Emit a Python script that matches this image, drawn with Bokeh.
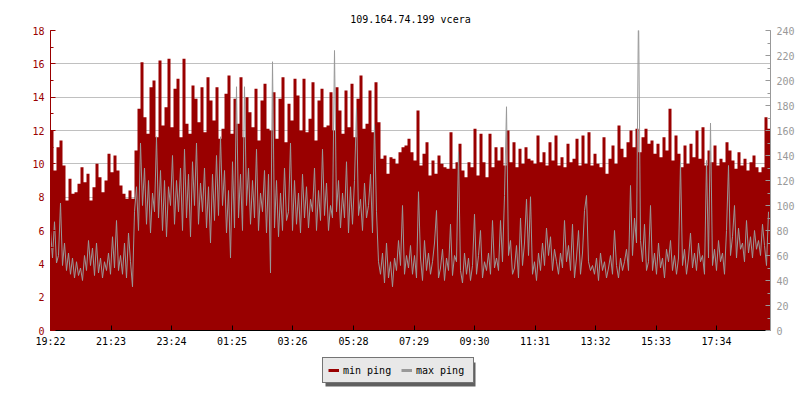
from bokeh.plotting import figure
from bokeh.layouts import column
from bokeh.models import (Range1d, LinearAxis, FixedTicker, SingleIntervalTicker,
                          Legend, LegendItem, Grid, BoxAnnotation)
from bokeh.embed import file_html
from bokeh.resources import INLINE

title_text = "109.164.74.199 vcera"
tick_labels = ["19:22", "21:23", "23:24", "01:25", "03:26", "05:28",
               "07:29", "09:30", "11:31", "13:32", "15:33", "17:34"]
series_names = ["min ping", "max ping"]

min_step_minutes = 6
max_step_minutes = 4
span_minutes = 1440

# min ping (left axis), one value every 6 minutes from 19:22
min_ping = [
    12.0, 9.6, 11.0, 11.4, 9.9, 7.8, 9.1, 8.2, 8.3, 8.8,
    9.8, 8.9, 9.4, 7.8, 8.6, 10.0, 9.2, 8.3, 9.0, 10.6,
    9.5, 10.5, 9.6, 8.7, 8.2, 7.9, 8.4, 7.9, 10.8, 13.3,
    16.1, 12.8, 11.8, 14.6, 15.0, 11.6, 16.2, 12.3, 13.4, 16.3,
    12.2, 14.5, 15.1, 11.6, 16.3, 12.4, 11.8, 14.7, 13.9, 12.5,
    14.6, 11.9, 15.2, 13.8, 12.6, 14.6, 11.5, 12.1, 14.2, 15.3,
    11.8, 13.9, 12.4, 15.2, 11.6, 14.0, 13.1, 12.2, 14.5, 11.4,
    13.8, 14.8, 12.1, 12.0, 14.3, 11.5, 13.9, 15.2, 11.3, 13.6,
    12.6, 15.1, 14.1, 12.0, 15.1, 11.9, 12.7, 14.9, 11.4, 13.8,
    14.5, 12.2, 12.3, 14.3, 12.0, 14.6, 13.2, 11.8, 14.4, 12.2,
    14.8, 11.6, 13.9, 15.3, 12.1, 12.4, 14.4, 11.9, 14.9, 12.5,
    10.3, 10.5, 9.4, 10.4, 10.3, 10.0, 10.7, 11.0, 11.1, 11.5,
    10.7, 10.2, 13.2, 9.9, 10.6, 11.3, 9.3, 10.2, 9.4, 10.5,
    10.0, 9.8, 9.7, 11.9, 9.7, 10.1, 11.2, 9.6, 9.2, 10.1,
    9.8, 12.1, 9.3, 11.8, 10.1, 9.2, 11.8, 9.8, 11.0, 10.2,
    11.0, 9.9, 12.0, 10.1, 11.3, 9.8, 10.9, 10.0, 11.0, 10.3,
    10.2, 10.0, 11.7, 10.1, 10.7, 9.9, 11.3, 10.2, 11.7, 9.9,
    10.4, 9.8, 11.2, 10.1, 10.3, 11.5, 9.9, 11.7, 10.0, 11.9,
    9.9, 10.6, 10.0, 9.8, 11.6, 9.4, 10.3, 11.1, 10.0, 12.3,
    10.9, 10.4, 11.3, 12.0, 11.0, 12.1, 10.7, 11.6, 12.1, 11.2,
    11.4, 10.6, 11.2, 10.4, 11.6, 10.8, 13.3, 10.2, 11.7, 10.6,
    9.8, 11.1, 10.0, 11.2, 10.4, 12.0, 10.3, 12.2, 9.9, 10.8,
    10.1, 11.1, 9.9, 10.3, 10.1, 11.3, 10.8, 10.2, 9.7, 10.7,
    9.9, 10.3, 9.6, 10.1, 10.5, 9.8, 9.5, 9.8, 12.8, 12.1,
]

# max ping (right axis), one value every 4 minutes from 19:22
max_ping = [
    80, 58, 87, 54, 60, 102, 52, 70, 48, 62, 45, 58, 42, 55, 44, 50,
    40, 60, 48, 72, 52, 66, 44, 70, 46, 58, 42, 55, 48, 62, 45, 75,
    50, 88, 48, 60, 45, 70, 42, 78, 55, 35, 95, 115, 80, 150, 100, 130,
    85, 120, 78, 110, 95, 155, 90, 128, 80, 120, 75, 115,
    100, 140, 85, 120, 95, 130, 80, 145, 90, 125, 75, 135, 100, 150, 85, 118,
    95, 130, 82, 115, 70, 125, 88, 140, 92, 155, 100, 128, 78, 112, 58, 135,
    82, 195, 90, 125, 80, 195, 100, 130, 85, 120, 90, 145, 80, 110, 95, 128,
    78, 125, 46, 215, 82, 120, 75, 110, 80, 130, 88,
    95, 150, 80, 120, 85, 110, 78, 125, 90, 115, 82, 105, 95, 130, 80, 112,
    88, 145, 92, 118, 80, 100, 90, 224, 95, 120, 82, 110, 90, 135, 78, 115,
    85, 120, 178, 92, 105, 80, 118, 90, 100, 125, 78, 165, 95, 55,
    45, 62, 38, 70, 42, 55, 35, 58, 48, 72, 52, 100, 45, 60,
    50, 68, 45, 60, 42, 111, 58, 40, 72, 48, 62, 45, 55, 70, 96, 42,
    50, 65, 40, 58, 48, 85, 44, 60, 55, 143, 48, 38, 62, 45, 58, 40,
    52, 93, 45, 60, 80, 42, 55, 48, 62, 45, 88, 50, 58, 48, 88, 55,
    108, 179, 60, 72, 45, 50, 68, 42, 90, 52, 70, 105,
    60, 107, 45, 55, 40, 62, 48, 70, 52, 82, 60, 75, 48, 65, 55, 45,
    62, 50, 88, 55, 68, 48, 85, 42, 58, 80, 45, 62, 96, 108, 55, 48,
    52, 45, 58, 40, 62, 48, 55, 42, 50, 60, 45, 80, 52, 42, 58, 48,
    55, 65, 48, 116, 60, 90, 70, 260, 72, 55, 85, 48,
    55, 100, 48, 62, 45, 70, 50, 58, 42, 65, 55, 72, 48, 60, 45, 58,
    135, 52, 65, 45, 58, 78, 50, 62, 48, 70, 55, 60, 45, 136, 58, 166,
    52, 65, 48, 72, 55, 62, 45, 80, 132, 60, 75, 100, 58, 82, 65, 70,
    55, 88, 62, 75, 58, 80, 65, 72, 60, 85, 68, 52, 95,
]

RED = "#990000"
GRAY = "#999999"
FONT = "DejaVu Sans Mono"
BORDER_L, FRAME_W, BORDER_R = 50, 720, 30


def to_minutes(s):
    h, m = s.split(":")
    return int(h) * 60 + int(m)


start = to_minutes(tick_labels[0])
tick_pos = [(to_minutes(s) - start) % span_minutes for s in tick_labels]

x_min = [i * min_step_minutes for i in range(len(min_ping))]
x_min_ext = x_min + [span_minutes]
y_min_ext = min_ping + [min_ping[-1]]
x_max = [i * max_step_minutes for i in range(len(max_ping))]

p = figure(frame_width=FRAME_W, frame_height=300,
           x_range=Range1d(0, span_minutes), y_range=Range1d(0, 18),
           output_backend="svg", toolbar_location=None,
           min_border_left=BORDER_L, min_border_top=30, min_border_right=BORDER_R,
           min_border_bottom=20, y_axis_location=None, x_axis_location=None)
p.extra_y_ranges = {"right": Range1d(0, 240)}
p.outline_line_color = None
p.background_fill_color = "white"
p.border_fill_color = "white"

p.title.text = title_text
p.title.align = "center"
p.title.text_font = FONT
p.title.text_font_size = "10px"
p.title.text_font_style = "normal"
p.title.text_color = "black"
p.title.standoff = 11

# axes
left = LinearAxis(ticker=SingleIntervalTicker(interval=2, num_minor_ticks=2))
left.axis_line_color = RED
left.major_tick_line_color = RED
left.minor_tick_line_color = RED
left.major_label_text_color = RED
left.major_tick_in = 5
left.major_tick_out = 0
left.minor_tick_in = 3
left.minor_tick_out = 0
left.major_label_standoff = 6
left.major_label_text_font = FONT
left.major_label_text_font_size = "10px"
p.add_layout(left, "left")

right = LinearAxis(y_range_name="right",
                   ticker=SingleIntervalTicker(interval=20, num_minor_ticks=2))
right.axis_line_color = GRAY
right.major_tick_line_color = GRAY
right.minor_tick_line_color = GRAY
right.major_label_text_color = GRAY
right.major_tick_in = 5
right.major_tick_out = 0
right.minor_tick_in = 3
right.minor_tick_out = 0
right.major_label_standoff = 6
right.major_label_text_font = FONT
right.major_label_text_font_size = "10px"
p.add_layout(right, "right")

bottom = LinearAxis(ticker=FixedTicker(ticks=tick_pos, minor_ticks=[]))
bottom.major_label_overrides = {t: lab for t, lab in zip(tick_pos, tick_labels)}
bottom.axis_line_color = "black"
bottom.major_tick_line_color = "black"
bottom.major_tick_in = 5
bottom.major_tick_out = 0
bottom.minor_tick_line_color = None
bottom.major_label_standoff = 5
bottom.major_label_text_font = FONT
bottom.major_label_text_font_size = "10px"
bottom.major_label_text_color = "black"
p.add_layout(bottom, "below")

p.xgrid.visible = False
p.ygrid.visible = False
grid = Grid(dimension=1, ticker=left.ticker, grid_line_color="#c0c0c0",
            grid_line_width=1)
p.add_layout(grid)

# data
p.varea_step(x=x_min_ext, y1=0, y2=y_min_ext, step_mode="after",
             fill_color=RED, fill_alpha=1)
p.line(x=x_max, y=max_ping, y_range_name="right", line_color=GRAY,
       line_width=1)

# legend strip below the chart; same horizontal borders as the chart,
# data units = pixels measured from the frame's left edge
leg_h = 48
q = figure(frame_width=FRAME_W, frame_height=leg_h,
           x_range=Range1d(0, FRAME_W), y_range=Range1d(0, leg_h),
           output_backend="svg", toolbar_location=None,
           min_border_left=BORDER_L, min_border_right=BORDER_R, min_border_top=0,
           min_border_bottom=0, x_axis_location=None, y_axis_location=None)
q.outline_line_color = None
q.xgrid.visible = False
q.ygrid.visible = False
q.background_fill_color = "white"
q.border_fill_color = "white"

pad, gw, stand, lw, sp, ih = 5, 11, 4, 52, 6, 14
box_w = 2 * pad + 2 * (gw + stand + lw) + sp
box_h = 2 * pad + ih
box_left, box_bottom, shadow_off = 272, 15, 3
q.add_layout(BoxAnnotation(left=box_left + shadow_off,
                           right=box_left + shadow_off + box_w,
                           bottom=box_bottom - shadow_off,
                           top=box_bottom - shadow_off + box_h,
                           fill_color="#606060", fill_alpha=1,
                           line_color=None))

nan = float("nan")
lg1 = q.line(x=[nan, nan], y=[nan, nan], line_color=RED, line_width=3)
lg2 = q.line(x=[nan, nan], y=[nan, nan], line_color=GRAY, line_width=3)
legend = Legend(items=[LegendItem(label=series_names[0], renderers=[lg1]),
                       LegendItem(label=series_names[1], renderers=[lg2])],
                orientation="horizontal", location=(box_left, box_bottom))
legend.background_fill_color = "#e8e8e8"
legend.background_fill_alpha = 1
legend.border_line_color = "black"
legend.border_line_width = 1
legend.label_text_color = "black"
legend.label_text_font = FONT
legend.label_text_font_size = "10px"
legend.padding = pad
legend.spacing = sp
legend.glyph_width = gw
legend.glyph_height = ih
legend.label_height = ih
legend.label_width = lw
legend.label_standoff = stand
legend.margin = 0
q.add_layout(legend, "center")

layout = column(p, q, spacing=0)
open("out.html", "w").write(file_html(layout, INLINE))
